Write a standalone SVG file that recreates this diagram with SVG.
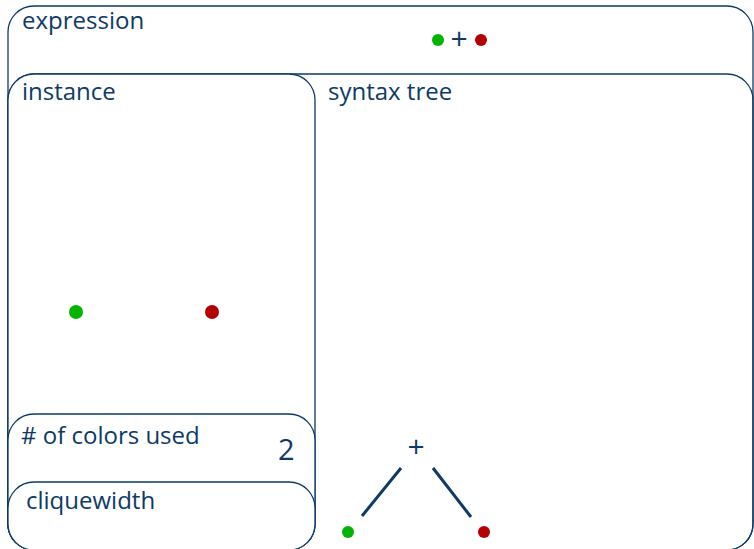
<svg xmlns="http://www.w3.org/2000/svg" width="754" height="549" viewBox="0 0 754 549">
  <style>
    .box { fill: none; stroke: #0d3a66; stroke-width: 1.3; }
    .panel { fill: #ffffff; stroke: #0d3a66; stroke-width: 1.3; }
    .lbl { font-family: "Open Sans", "Noto Sans", sans-serif; font-size: 24px; fill: #0d3a66; }
    .op { font-family: "Open Sans", "Noto Sans", sans-serif; font-size: 30px; fill: #0d3a66; text-anchor: middle; }
    .edge { stroke: #0d3a66; stroke-width: 3; }
    .g { fill: #00b400; }
    .r { fill: #b40000; }
  </style>
  <rect width="754" height="549" fill="#ffffff"/>

  <g id="expression">
    <rect class="box" x="8" y="6" width="745" height="544" rx="26"/>
    <text class="lbl" x="22" y="29">expression</text>
    <circle class="g" cx="438" cy="40" r="6"/>
    <text class="op" x="459" y="49">+</text>
    <circle class="r" cx="481" cy="40" r="6"/>
  </g>

  <g id="syntax-tree">
    <rect class="box" x="8" y="74" width="745" height="476" rx="26"/>
    <text class="lbl" x="328" y="100">syntax tree</text>
    <text class="op" x="416" y="457">+</text>
    <circle class="g" cx="348" cy="532" r="6"/>
    <circle class="r" cx="484" cy="532" r="6"/>
  </g>

  <g id="instance">
    <rect class="panel" x="8" y="74" width="307" height="476" rx="26"/>
    <text class="lbl" x="22" y="100">instance</text>
    <circle class="g" cx="76" cy="312" r="7"/>
    <circle class="r" cx="212" cy="312" r="7"/>
  </g>

  <g id="colors-used">
    <rect class="panel" x="8" y="414" width="307" height="136" rx="26"/>
    <text class="lbl" x="21" y="444"># of colors used</text>
    <text class="lbl" x="278" y="460" style="font-size:29px">2</text>
  </g>

  <g id="cliquewidth">
    <rect class="panel" x="8" y="482" width="307" height="68" rx="26"/>
    <text class="lbl" x="26" y="509">cliquewidth</text>
  </g>

  <g id="connectors">
    <line class="edge" x1="362" y1="516" x2="401" y2="468"/>
    <line class="edge" x1="433" y1="468" x2="471" y2="517"/>
  </g>
</svg>
